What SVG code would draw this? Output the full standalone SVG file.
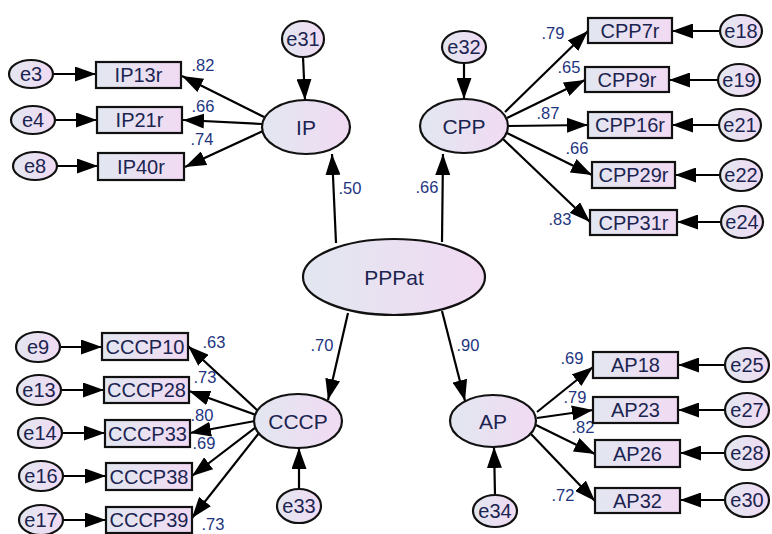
<svg xmlns="http://www.w3.org/2000/svg" width="772" height="534" viewBox="0 0 772 534">
<defs>
<linearGradient id="g" x1="0" y1="0" x2="1" y2="0">
<stop offset="0" stop-color="#e2e7f0"/>
<stop offset="1" stop-color="#f1daf3"/>
</linearGradient>
<marker id="ah" markerUnits="userSpaceOnUse" markerWidth="21" markerHeight="15" refX="21" refY="7.5" orient="auto">
<path d="M0,0 L21,7.5 L0,15 z" fill="#000"/>
</marker>
<style>
.n{fill:url(#g);stroke:#111;stroke-width:2.2}
.t{font-family:"Liberation Sans",Arial,sans-serif;font-size:20px;fill:#1b2450;text-anchor:middle;dominant-baseline:central}
.lt{font-size:21px}
.c{stroke:#000;stroke-width:2.2;fill:none;marker-end:url(#ah)}
.v{font-family:"Liberation Sans",Arial,sans-serif;font-size:16.5px;fill:#1d3580;text-anchor:middle;dominant-baseline:central}
</style>
</defs>
<rect width="772" height="534" fill="#fff"/>
<g id="connectors">
<line class="c" x1="336" y1="243" x2="332" y2="154"/>
<line class="c" x1="442" y1="242" x2="443" y2="154"/>
<line class="c" x1="348" y1="313" x2="328" y2="400"/>
<line class="c" x1="442" y1="311" x2="465" y2="401"/>
<line class="c" x1="264" y1="117" x2="182" y2="76"/>
<line class="c" x1="262" y1="124" x2="183" y2="120"/>
<line class="c" x1="263" y1="131" x2="185" y2="167"/>
<line class="c" x1="53" y1="74" x2="96" y2="74"/>
<line class="c" x1="55" y1="120" x2="97" y2="120"/>
<line class="c" x1="57" y1="166" x2="98" y2="166"/>
<line class="c" x1="303" y1="57" x2="305" y2="100"/>
<line class="c" x1="505" y1="112" x2="588" y2="31"/>
<line class="c" x1="507" y1="118" x2="585" y2="80"/>
<line class="c" x1="508" y1="126" x2="588" y2="125"/>
<line class="c" x1="507" y1="133" x2="592" y2="175"/>
<line class="c" x1="503" y1="139" x2="590" y2="222"/>
<line class="c" x1="720" y1="31" x2="672" y2="31"/>
<line class="c" x1="718" y1="80" x2="669" y2="80"/>
<line class="c" x1="719" y1="125" x2="672" y2="125"/>
<line class="c" x1="720" y1="175" x2="675" y2="175"/>
<line class="c" x1="721" y1="222" x2="677" y2="222"/>
<line class="c" x1="464" y1="63" x2="464" y2="99"/>
<line class="c" x1="257" y1="410" x2="188" y2="346"/>
<line class="c" x1="256" y1="415" x2="189" y2="391"/>
<line class="c" x1="255" y1="421" x2="190" y2="433"/>
<line class="c" x1="256" y1="427" x2="192" y2="476"/>
<line class="c" x1="259" y1="433" x2="192" y2="518"/>
<line class="c" x1="60" y1="347" x2="102" y2="347"/>
<line class="c" x1="61" y1="390" x2="104" y2="390"/>
<line class="c" x1="62" y1="433" x2="105" y2="433"/>
<line class="c" x1="63" y1="476" x2="106" y2="476"/>
<line class="c" x1="63" y1="520" x2="106" y2="520"/>
<line class="c" x1="299" y1="489" x2="299" y2="448"/>
<line class="c" x1="537" y1="412" x2="593" y2="367"/>
<line class="c" x1="537" y1="418" x2="593" y2="410"/>
<line class="c" x1="536" y1="425" x2="595" y2="454"/>
<line class="c" x1="531" y1="434" x2="595" y2="501"/>
<line class="c" x1="725" y1="365" x2="678" y2="365"/>
<line class="c" x1="725" y1="410" x2="678" y2="410"/>
<line class="c" x1="725" y1="453" x2="680" y2="453"/>
<line class="c" x1="725" y1="500" x2="680" y2="500"/>
<line class="c" x1="495" y1="495" x2="494" y2="447"/>
</g>
<g id="labels">
<text class="v" x="350" y="188">.50</text>
<text class="v" x="427" y="187">.66</text>
<text class="v" x="322" y="345">.70</text>
<text class="v" x="468" y="345">.90</text>
<text class="v" x="203" y="65">.82</text>
<text class="v" x="203" y="106">.66</text>
<text class="v" x="202" y="139">.74</text>
<text class="v" x="553" y="33">.79</text>
<text class="v" x="569" y="67">.65</text>
<text class="v" x="548" y="113">.87</text>
<text class="v" x="577" y="148">.66</text>
<text class="v" x="560" y="219">.83</text>
<text class="v" x="214" y="342">.63</text>
<text class="v" x="205" y="377">.73</text>
<text class="v" x="202" y="415">.80</text>
<text class="v" x="204" y="443">.69</text>
<text class="v" x="213" y="524">.73</text>
<text class="v" x="572" y="358">.69</text>
<text class="v" x="575" y="397">.79</text>
<text class="v" x="583" y="427">.82</text>
<text class="v" x="563" y="495">.72</text>
</g>
<g id="PPPat"><ellipse class="n" cx="394" cy="277" rx="91" ry="38"/><text class="t lt" x="394" y="277">PPPat</text></g>
<g id="IP"><ellipse class="n" cx="306" cy="127" rx="44" ry="27"/><text class="t lt" x="306" y="127">IP</text></g>
<g id="CPP"><ellipse class="n" cx="464" cy="126" rx="44" ry="27"/><text class="t lt" x="464" y="126">CPP</text></g>
<g id="CCCP"><ellipse class="n" cx="298" cy="421" rx="44" ry="27"/><text class="t lt" x="298" y="421">CCCP</text></g>
<g id="AP"><ellipse class="n" cx="493" cy="421" rx="43" ry="26"/><text class="t lt" x="493" y="421">AP</text></g>
<g id="e31"><ellipse class="n" cx="303" cy="39" rx="21" ry="18"/><text class="t" x="303" y="39">e31</text></g>
<g id="e32"><ellipse class="n" cx="464" cy="47" rx="22" ry="16"/><text class="t" x="464" y="47">e32</text></g>
<g id="e33"><ellipse class="n" cx="299" cy="506" rx="22" ry="17"/><text class="t" x="299" y="506">e33</text></g>
<g id="e34"><ellipse class="n" cx="495" cy="511" rx="22" ry="16"/><text class="t" x="495" y="511">e34</text></g>
<g id="IP13r"><rect class="n" x="96" y="62" width="85" height="26"/><text class="t" x="138.5" y="75">IP13r</text></g>
<g id="IP21r"><rect class="n" x="97" y="107" width="85" height="26"/><text class="t" x="139.5" y="120">IP21r</text></g>
<g id="IP40r"><rect class="n" x="98" y="153" width="86" height="27"/><text class="t" x="141" y="166.5">IP40r</text></g>
<g id="e3"><ellipse class="n" cx="31" cy="74" rx="22" ry="14"/><text class="t" x="31" y="74">e3</text></g>
<g id="e4"><ellipse class="n" cx="33" cy="120" rx="22" ry="14"/><text class="t" x="33" y="120">e4</text></g>
<g id="e8"><ellipse class="n" cx="35" cy="166" rx="22" ry="14"/><text class="t" x="35" y="166">e8</text></g>
<g id="CPP7r"><rect class="n" x="588" y="18" width="84" height="25"/><text class="t" x="630" y="30.5">CPP7r</text></g>
<g id="CPP9r"><rect class="n" x="585" y="67" width="84" height="25"/><text class="t" x="627" y="79.5">CPP9r</text></g>
<g id="CPP16r"><rect class="n" x="588" y="112" width="84" height="26"/><text class="t" x="630" y="125">CPP16r</text></g>
<g id="CPP29r"><rect class="n" x="592" y="162" width="83" height="26"/><text class="t" x="633.5" y="175">CPP29r</text></g>
<g id="CPP31r"><rect class="n" x="590" y="210" width="87" height="25"/><text class="t" x="633.5" y="222.5">CPP31r</text></g>
<g id="e18"><ellipse class="n" cx="741" cy="31" rx="21" ry="16"/><text class="t" x="741" y="31">e18</text></g>
<g id="e19"><ellipse class="n" cx="739" cy="80" rx="21" ry="16"/><text class="t" x="739" y="80">e19</text></g>
<g id="e21"><ellipse class="n" cx="740" cy="125" rx="21" ry="16"/><text class="t" x="740" y="125">e21</text></g>
<g id="e22"><ellipse class="n" cx="741" cy="175" rx="21" ry="16"/><text class="t" x="741" y="175">e22</text></g>
<g id="e24"><ellipse class="n" cx="742" cy="222" rx="21" ry="16"/><text class="t" x="742" y="222">e24</text></g>
<g id="CCCP10"><rect class="n" x="102" y="333" width="86" height="27"/><text class="t" x="145" y="346.5">CCCP10</text></g>
<g id="CCCP28"><rect class="n" x="104" y="377" width="85" height="26"/><text class="t" x="146.5" y="390">CCCP28</text></g>
<g id="CCCP33"><rect class="n" x="105" y="420" width="85" height="27"/><text class="t" x="147.5" y="433.5">CCCP33</text></g>
<g id="CCCP38"><rect class="n" x="106" y="463" width="86" height="27"/><text class="t" x="149" y="476.5">CCCP38</text></g>
<g id="CCCP39"><rect class="n" x="106" y="507" width="86" height="26"/><text class="t" x="149" y="520">CCCP39</text></g>
<g id="e9"><ellipse class="n" cx="38" cy="347" rx="22" ry="15"/><text class="t" x="38" y="347">e9</text></g>
<g id="e13"><ellipse class="n" cx="39" cy="390" rx="22" ry="15"/><text class="t" x="39" y="390">e13</text></g>
<g id="e14"><ellipse class="n" cx="40" cy="433" rx="22" ry="15"/><text class="t" x="40" y="433">e14</text></g>
<g id="e16"><ellipse class="n" cx="41" cy="476" rx="22" ry="15"/><text class="t" x="41" y="476">e16</text></g>
<g id="e17"><ellipse class="n" cx="41" cy="520" rx="22" ry="15"/><text class="t" x="41" y="520">e17</text></g>
<g id="AP18"><rect class="n" x="593" y="352" width="85" height="26"/><text class="t" x="635.5" y="365">AP18</text></g>
<g id="AP23"><rect class="n" x="593" y="397" width="85" height="26"/><text class="t" x="635.5" y="410">AP23</text></g>
<g id="AP26"><rect class="n" x="595" y="440" width="85" height="27"/><text class="t" x="637.5" y="453.5">AP26</text></g>
<g id="AP32"><rect class="n" x="595" y="488" width="85" height="25"/><text class="t" x="637.5" y="500.5">AP32</text></g>
<g id="e25"><ellipse class="n" cx="747" cy="365" rx="22" ry="17"/><text class="t" x="747" y="365">e25</text></g>
<g id="e27"><ellipse class="n" cx="747" cy="410" rx="22" ry="17"/><text class="t" x="747" y="410">e27</text></g>
<g id="e28"><ellipse class="n" cx="747" cy="453" rx="22" ry="17"/><text class="t" x="747" y="453">e28</text></g>
<g id="e30"><ellipse class="n" cx="747" cy="500" rx="22" ry="17"/><text class="t" x="747" y="500">e30</text></g>
</svg>
